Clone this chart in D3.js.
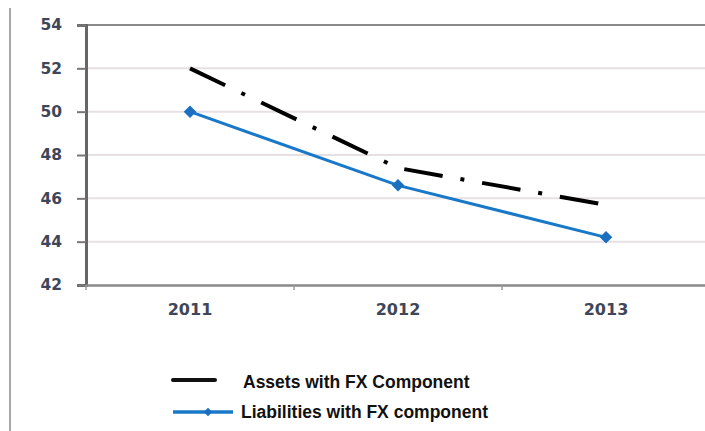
<!DOCTYPE html>
<html><head><meta charset="utf-8">
<script src="https://cdn.jsdelivr.net/npm/d3@7"></script>
<style>body{margin:0;background:#fff;} svg{display:block;}</style>
</head><body>
<svg id="c" width="705" height="431"></svg>
<script>
const years = ["2011", "2012", "2013"];
const assets = [52.0, 47.4, 45.7];
const liabilities = [50.0, 46.6, 44.2];
const yTicks = [42, 44, 46, 48, 50, 52, 54];
const seriesNames = ["Assets with FX Component", "Liabilities with FX component"];

const svg = d3.select("#c");
const mLeft = 86, mRight = 710, mTop = 25, mBottom = 285;
const x = d3.scaleBand().domain(years).range([mLeft, mRight]);
const y = d3.scaleLinear().domain([42, 54]).range([mBottom, mTop]);

// outer left border
svg.append("line").attr("x1", 10).attr("x2", 10).attr("y1", 8).attr("y2", 431)
  .attr("stroke", "#a8a8a8").attr("stroke-width", 2);

// gridlines
svg.append("g").selectAll("line").data(yTicks.filter(d => d > 42 && d < 54)).join("line")
  .attr("x1", mLeft).attr("x2", 705).attr("y1", d => y(d)).attr("y2", d => y(d))
  .attr("stroke", "#e6e0e4").attr("stroke-width", 2);
// top border
svg.append("line").attr("x1", mLeft).attr("x2", 705).attr("y1", y(54)).attr("y2", y(54))
  .attr("stroke", "#8a8a8a").attr("stroke-width", 2);

const tickFont = "Verdana, 'DejaVu Sans', sans-serif";
const tickColor = "#3e4658";

// y axis
const ya = svg.append("g").attr("transform", `translate(${mLeft},0)`)
  .call(d3.axisLeft(y).tickValues(yTicks).tickSize(9).tickPadding(15).tickFormat(d3.format("d")));
ya.select(".domain").attr("stroke", "#666").attr("stroke-width", 3);
ya.selectAll(".tick line").attr("stroke", "#777").attr("stroke-width", 2);
ya.selectAll("text").attr("font-family", tickFont).attr("font-size", 15.5)
  .attr("font-weight", "bold").attr("fill", tickColor);

// x axis
const xa = svg.append("g").attr("transform", `translate(0,${mBottom})`)
  .call(d3.axisBottom(x).tickSize(0).tickPadding(19));
xa.select(".domain").attr("stroke", "#8a8a8a").attr("stroke-width", 2.5);
xa.selectAll("text").attr("font-family", tickFont).attr("font-size", 16)
  .attr("font-weight", "bold").attr("fill", tickColor);
// category boundary ticks
svg.append("g").selectAll("line").data(years).join("line")
  .attr("x1", d => x(d)).attr("x2", d => x(d)).attr("y1", mBottom).attr("y2", mBottom + 5)
  .attr("stroke", "#999").attr("stroke-width", 1.5);

const cx = d => x(d) + x.bandwidth() / 2;
const line = d3.line().x((d, i) => cx(years[i])).y(d => y(d));

svg.append("path").datum(assets).attr("d", line).attr("fill", "none")
  .attr("stroke", "#000").attr("stroke-width", 4).attr("stroke-dasharray", "39,18,4,18");

svg.append("path").datum(liabilities).attr("d", line).attr("fill", "none")
  .attr("stroke", "#1a78c8").attr("stroke-width", 3);

const diamond = d3.symbol().type(d3.symbolDiamond2).size(100);
svg.append("g").selectAll("path").data(liabilities).join("path")
  .attr("d", diamond).attr("transform", (d, i) => `translate(${cx(years[i])},${y(d)})`)
  .attr("fill", "#1a6fc0");

// legend
const lg = svg.append("g");
lg.append("line").attr("x1", 173).attr("x2", 215).attr("y1", 380).attr("y2", 380)
  .attr("stroke", "#111").attr("stroke-width", 4).attr("stroke-linecap", "round");
lg.append("text").attr("x", 243).attr("y", 388).text(seriesNames[0]);
lg.append("line").attr("x1", 173).attr("x2", 233).attr("y1", 412).attr("y2", 412)
  .attr("stroke", "#1a78c8").attr("stroke-width", 3.5);
lg.append("path").attr("d", d3.symbol().type(d3.symbolDiamond2).size(45)).attr("transform", "translate(208,412)")
  .attr("fill", "#1a6fc0");
lg.append("text").attr("x", 241).attr("y", 418).text(seriesNames[1]);
lg.selectAll("text").attr("font-family", "'Liberation Sans', Arial, sans-serif").attr("font-weight", "bold")
  .attr("font-size", 17.5).attr("fill", "#111");
</script>
</body></html>
